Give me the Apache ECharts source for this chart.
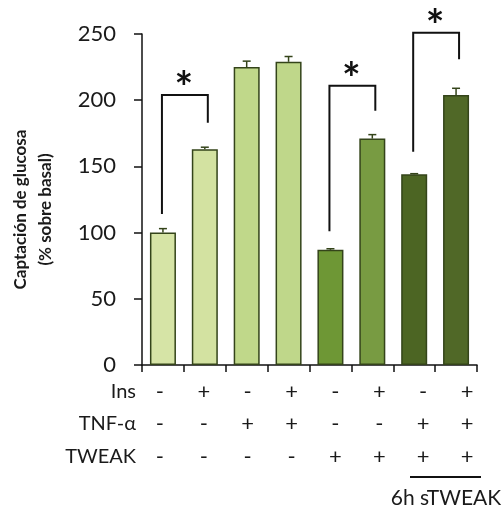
<!DOCTYPE html>
<html><head><meta charset="utf-8">
<script src="https://cdn.jsdelivr.net/npm/echarts@6/dist/echarts.min.js"></script>
<style>html,body{margin:0;padding:0;background:#fff}#c{width:504px;height:514px}</style>
</head><body><div id="c"></div>
<script>
const groups = ['1','2','3','4','5','6','7','8'];
const values = [100, 163, 225, 229, 87, 171, 144, 204];
const errors = [3, 1.5, 4.5, 4, 0.8, 3, 0.5, 5];
const barColors = ['#d6e4a6','#d3e2a1','#c0d88a','#bfd78a','#6e9735','#789b42','#4c6523','#506827'];
const insRow = ['-','+','-','+','-','+','-','+'];
const tnfRow = ['-','-','+','+','-','-','+','+'];
const tweakRow = ['-','-','-','-','+','+','+','+'];
const rowNames = ['Ins','TNF-α','TWEAK'];
const yTicks = [0, 50, 100, 150, 200, 250];
// significance brackets: [leftIndex, rightIndex, topValue, leftBottom, rightBottom]
const brackets = [[0,1,204,114,183],[4,5,211,101,192],[6,7,251,161,231]];
const sigLabel = '*';
const noteText = '6h sTWEAK';

const FONT = 'Lato';
const TXT = '#1a1a1a';
const chart = echarts.init(document.getElementById('c'));
const sign = (row, name, off) => ({
  type:'category', gridIndex:1, data: row, position:'bottom', offset: off,
  axisLine:{show:false}, axisTick:{show:false},
  axisLabel:{margin:0, verticalAlign:'middle', fontSize:22, color:TXT, fontFamily:FONT},
  name: name, nameLocation:'start', nameGap: 2,
  nameTextStyle:{fontSize:20, color:TXT, fontFamily:FONT, align:'right', verticalAlign:'middle'}
});
chart.setOption({
  animation:false,
  grid:[{left:142, right:27, top:34, bottom:149},
        {left:138, right:15, top:391, height:1}],
  xAxis:[{type:'category', data:groups, gridIndex:0,
          axisLine:{lineStyle:{color:'#111', width:1.5}},
          axisTick:{show:true, length:7, inside:false, lineStyle:{color:'#111', width:1.5}},
          axisLabel:{show:false}},
         sign(insRow, rowNames[0], 0),
         sign(tnfRow, rowNames[1], 32),
         sign(tweakRow, rowNames[2], 65)],
  yAxis:[{type:'value', min:0, max:250, interval:50, gridIndex:0,
          axisLine:{show:true, lineStyle:{color:'#111', width:1.5}},
          axisTick:{show:true, length:8, lineStyle:{color:'#111', width:1.5}},
          splitLine:{show:false},
          axisLabel:{fontSize:22, color:TXT, fontFamily:FONT, margin:26,
            formatter: v => yTicks.includes(v) ? String(v) : ''},
          name:'Captación de glucosa\n(% sobre basal)', nameLocation:'middle', nameGap:84,
          nameTextStyle:{fontSize:17, fontWeight:'bold', color:TXT, fontFamily:FONT, lineHeight:25,
            padding:[0,20,0,0]}},
         {type:'value', gridIndex:1, show:false}],
  series:[
    {type:'bar', xAxisIndex:0, yAxisIndex:0, barWidth:26,
     data: values.map((v,i)=>({value:v, itemStyle:{color:barColors[i]}})),
     itemStyle:{borderColor:'#34441a', borderWidth:1.5}},
    {type:'custom', xAxisIndex:0, yAxisIndex:0, z:5,
     data: values.map((v,i)=>[i, v, v+errors[i]]),
     renderItem:(p, api)=>{
       const a = api.coord([api.value(0), api.value(1)]);
       const b = api.coord([api.value(0), api.value(2)]);
       return {type:'group', children:[
         {type:'line', shape:{x1:a[0], y1:a[1], x2:b[0], y2:b[1]}, style:{stroke:'#34441a', lineWidth:1.5}},
         {type:'line', shape:{x1:b[0]-4, y1:b[1], x2:b[0]+4, y2:b[1]}, style:{stroke:'#34441a', lineWidth:1.5}}
       ]};
     }},
    {type:'custom', xAxisIndex:0, yAxisIndex:0, z:6,
     data: brackets,
     renderItem:(p, api)=>{
       const l = api.coord([api.value(0), api.value(2)]);
       const r = api.coord([api.value(1), api.value(2)]);
       const lb = api.coord([api.value(0), api.value(3)]);
       const rb = api.coord([api.value(1), api.value(4)]);
       return {type:'group', children:[
         {type:'polyline', shape:{points:[[lb[0]-1,lb[1]],[l[0]-1,l[1]],[r[0]+3,r[1]],[r[0]+3,rb[1]]]},
          style:{stroke:'#111', lineWidth:2, fill:null}},
         {type:'text', style:{text:sigLabel, x:(l[0]+r[0])/2, y:l[1]-6, align:'center', verticalAlign:'middle',
           fontSize:44, fontFamily:FONT, fontWeight:'bold', fill:'#111'}}
       ]};
     }}
  ],
  graphic:[
    {type:'line', shape:{x1:410, y1:477, x2:481, y2:477}, style:{stroke:'#111', lineWidth:2}},
    {type:'text', style:{text:noteText, x:446, y:498, align:'center', verticalAlign:'middle',
      fontSize:21, fontFamily:FONT, fill:TXT}}
  ]
});
</script></body></html>
